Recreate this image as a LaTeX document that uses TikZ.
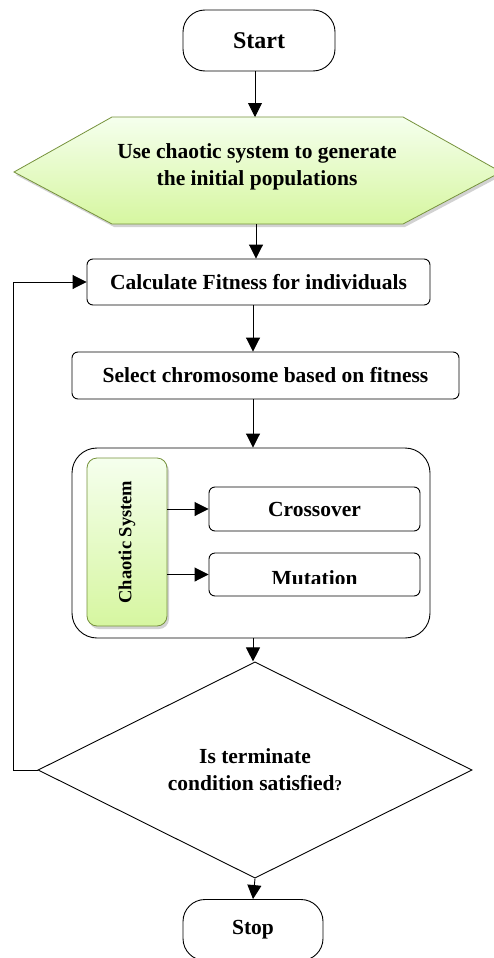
\documentclass[tikz,border=0pt]{standalone}
\usepackage{fontspec}
\setmainfont{Liberation Serif}
\usetikzlibrary{arrows.meta,shapes.geometric,shadows}
\begin{document}
\begin{tikzpicture}[x=1pt,y=-1pt,
  txt/.style={font=\fontsize{21.5}{27}\selectfont\bfseries, text=black},
  box/.style={draw=black, line width=0.9pt, rounded corners=6pt, fill=white, txt, inner sep=0pt},
  term/.style={box, rounded corners=22pt},
  arr/.style={line width=0.9pt, -{Triangle[length=14pt,width=14pt]}},
  greenfill/.style={top color=green!4!white!97!yellow, bottom color={rgb,255:red,214;green,246;blue,160}, draw={rgb,255:red,118;green,146;blue,60}, line width=0.8pt,
    drop shadow={opacity=0.35, shadow xshift=2pt, shadow yshift=-3pt}}
]
\useasboundingbox (0,0) rectangle (493,958);
\fill[white] (0,0) rectangle (493,958);

% Start
\node[term, minimum width=152pt, minimum height=61pt, font=\fontsize{24}{27}\selectfont\bfseries] (start) at (259,40.5) {Start};

% hexagon
\path[greenfill] (14,172) -- (112,117) -- (403,117) -- (501,172) -- (403,224) -- (112,224) -- cycle;
\coordinate (hexT) at (255,117);
\coordinate (hexB) at (256,224);
\node[txt, align=center] (hex) at (257,167) {Use chaotic system to generate\\the initial populations};

% Calculate
\node[box, minimum width=343pt, minimum height=46pt] (calc) at (258.5,282) {Calculate Fitness for individuals};
% Select
\node[box, minimum width=387pt, minimum height=47pt] (select) at (265.5,375.5) {Select chromosome based on fitness};
% big box
\node[draw=black, line width=0.9pt, rounded corners=25pt, minimum width=358pt, minimum height=190pt, inner sep=0pt] (big) at (251,543) {};
% chaotic system
\node[greenfill, rounded corners=10pt, minimum width=80pt, minimum height=168pt, inner sep=0pt] (chaos) at (127,542) {};
\node[rotate=90, font=\fontsize{18.5}{20}\selectfont\bfseries] (chaostxt) at (127,542) {Chaotic System};
% crossover, mutation
\node[box, minimum width=211pt, minimum height=44pt] (cross) at (314.5,509) {Crossover};
\node[box, minimum width=211pt, minimum height=43pt] (mut) at (314.5,574.5) {};
\begin{scope}
  \clip (209,555) rectangle (420,583);
  \node[txt, anchor=base] (muttxt) at (314.5,585) {Mutation};
\end{scope}

% decision
\node[diamond, draw=black, line width=0.9pt, minimum width=434pt, minimum height=169pt, inner sep=0pt, align=center, txt] (dia) at (255,770)
  {\raisebox{0pt}{Is terminate}\\condition satisfied{\fontsize{15}{15}\selectfont ?}};

% Stop
\node[term, minimum width=140pt, minimum height=61pt] (stop) at (253,930) {Stop};

% connectors
\coordinate (ax) at (253,0);
\draw[arr] (start.south -| hexT) -- (hexT);
\draw[arr] (hexB) -- (hexB |- calc.north);
\draw[arr] (calc.south -| ax) -- (select.north -| ax);
\draw[arr] (select.south -| ax) -- (big.north -| ax);
\draw[arr] (big.south -| ax) -- (dia.north -| ax);
\draw[arr] (dia.south) -- (stop.north);
\draw[arr] (chaos.east |- cross.west) -- (cross.west);
\draw[arr] (chaos.east |- mut.west) -- (mut.west);
\draw[arr] (dia.west) -- ++(-24,0) |- (calc.west);
\end{tikzpicture}
\end{document}
